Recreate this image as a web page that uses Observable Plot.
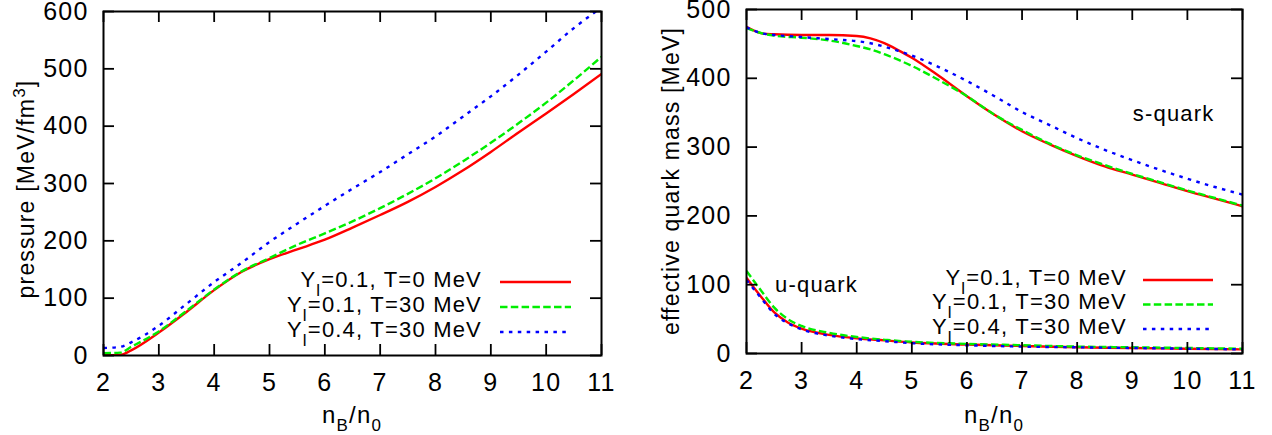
<!DOCTYPE html>
<html>
<head>
<meta charset="utf-8">
<script src="https://cdn.jsdelivr.net/npm/d3@7"></script>
<script src="https://cdn.jsdelivr.net/npm/@observablehq/plot@0.6"></script>
<style>
  body { margin: 0; background: #fff; }
  #charts { display: flex; width: 1272px; height: 435px; }
  #charts svg text { font-family: 'Liberation Sans', Arial, Helvetica, sans-serif; }
</style>
</head>
<body>
<div id="charts"></div>
<script>
// ---- pressure vs baryon density ----
const nPressure = [2, 2.3, 2.5, 3, 3.5, 4, 4.5, 5, 5.5, 6, 6.5, 7, 7.5, 8, 8.5, 9, 9.5, 10, 10.5, 11];
const pressureY01T0  = [0.5, 1, 9, 40, 76, 114, 146, 168, 185, 202, 223, 245, 268, 294, 323, 355, 389, 422, 456, 491];
const pressureY01T30 = [4, 5, 15, 42, 78, 115, 147, 170, 193, 213, 234, 257, 282, 309, 339, 371, 405, 441, 480, 521];
const pressureY04T30 = [13, 15, 23, 52, 90, 128, 162, 198, 230, 261, 291, 320, 351, 382, 417, 452, 490, 530, 571, 607];

// ---- effective quark masses ----
const nStrange = [2, 2.3, 2.5, 3, 3.5, 4, 4.25, 4.5, 4.75, 5, 5.5, 6, 6.5, 7, 7.5, 8, 8.5, 9, 9.5, 10, 10.5, 11];
const sMassY01T0  = [475, 465, 464, 463, 463, 461.5, 458, 451, 441, 430, 403, 374, 347, 323, 304, 287, 272, 260, 248, 236, 225, 214];
const sMassY01T30 = [473, 465, 462, 459, 455, 447, 442, 435, 427, 418, 397, 374, 347, 325, 305, 288, 274, 261, 249, 237, 226, 215];
const sMassY04T30 = [474, 465, 463, 460, 457, 454, 451, 446, 440, 433, 416, 396, 374, 351, 332, 313, 296, 281, 267, 254, 242, 231];

const nUp = [2, 2.25, 2.5, 2.75, 3, 3.5, 4, 4.5, 5, 6, 7, 8, 9, 10, 11];
const uMassY01T0  = [110, 84, 60, 45, 36, 27, 22, 19, 16, 13, 11, 9, 8, 7, 6];
const uMassY01T30 = [120, 93, 67, 50, 40, 30, 24, 20, 17, 14, 12, 10, 9, 8, 7];
const uMassY04T30 = [107, 82, 58, 44, 35, 26, 21, 18, 15, 12, 10, 9, 8, 7, 6];

// ---- axes and legend text ----
const xTicks = [2, 3, 4, 5, 6, 7, 8, 9, 10, 11];
const pressureTicks = [0, 100, 200, 300, 400, 500, 600];
const massTicks = [0, 100, 200, 300, 400, 500];
const legendYl = ["0.1", "0.1", "0.4"];
const legendT = ["0", "30", "30"];
const quarkLabels = ["s-quark", "u-quark"];

const styles = [
  { stroke: "#ff0000", dash: null },
  { stroke: "#00ee00", dash: "7.5,3.3" },
  { stroke: "#0000ff", dash: "3.5,5.4" }
];

const W = 636, H = 435, TICK = 11;
const FONT = "'Liberation Sans', Arial, Helvetica, sans-serif";
const FS = 22;       // labels and legend
const TICK_FS = 25;  // tick numbers

function table(xs, ys) { return xs.map((x, i) => ({ x, y: ys[i] })); }

function curves(xs, ysList) {
  return ysList.map((ys, k) => Plot.line(table(xs, ys), {
    x: "x", y: "y",
    stroke: styles[k].stroke,
    strokeWidth: 2.4,
    strokeDasharray: styles[k].dash,
    strokeLinecap: "butt",
    curve: "monotone-x",
    clip: true
  }));
}

function panel({ margins, yDomain, yTicks, marks }) {
  const [mt, mr, mb, ml] = margins;
  const fw = W - ml - mr, fh = H - mt - mb;
  return Plot.plot({
    width: W, height: H,
    marginTop: mt, marginRight: mr, marginBottom: mb, marginLeft: ml,
    style: { fontFamily: FONT, fontSize: FS + "px", letterSpacing: "1.2px", background: "white", color: "black", overflow: "visible" },
    x: { domain: [2, 11], axis: null },
    y: { domain: yDomain, axis: null },
    marks: [
      ...marks,
      // inward ticks on all four sides
      Plot.ruleX(xTicks, { x: d => d, insetTop: fh - TICK, strokeWidth: 1.8 }),
      Plot.ruleX(xTicks, { x: d => d, insetBottom: fh - TICK, strokeWidth: 1.8 }),
      Plot.ruleY(yTicks, { y: d => d, insetRight: fw - TICK, strokeWidth: 1.8 }),
      Plot.ruleY(yTicks, { y: d => d, insetLeft: fw - TICK, strokeWidth: 1.8 }),
      // tick numbers
      Plot.text(xTicks, { x: d => d, frameAnchor: "bottom", dy: 27, text: d => String(d), fontSize: TICK_FS, lineAnchor: "middle", fill: "black" }),
      Plot.text(yTicks, { y: d => d, frameAnchor: "left", dx: -15, text: d => String(d), fontSize: TICK_FS, textAnchor: "end", lineAnchor: "middle", fill: "black" }),
      Plot.frame({ stroke: "black", strokeWidth: 2 })
    ]
  });
}

function addXLabel(svg, cx) {
  const t = d3.select(svg).append("text")
    .attr("x", cx).attr("y", 423).attr("text-anchor", "middle")
    .attr("font-size", 24).attr("fill", "black");
  t.append("tspan").text("n");
  t.append("tspan").attr("font-size", 17).attr("dy", 8).text("B");
  t.append("tspan").attr("dy", -8).text("/n");
  t.append("tspan").attr("font-size", 17).attr("dy", 8).text("0");
}

function addLegend(svg, rows, textRight, lineX1, lineX2) {
  const g = d3.select(svg).append("g").attr("font-size", FS).attr("fill", "black");
  rows.forEach((y, k) => {
    const t = g.append("text").attr("x", textRight).attr("y", y + 4.5).attr("text-anchor", "end");
    t.append("tspan").text("Y");
    t.append("tspan").attr("font-size", 17).attr("dy", 9).text("l");
    t.append("tspan").attr("dy", -9).text(`=${legendYl[k]}, T=${legendT[k]} MeV`);
    g.append("line")
      .attr("x1", lineX1).attr("x2", lineX2).attr("y1", y).attr("y2", y)
      .attr("stroke", styles[k].stroke).attr("stroke-width", 2.6)
      .attr("stroke-dasharray", styles[k].dash);
  });
}

const root = document.getElementById("charts");

// left: pressure
const left = panel({
  margins: [11, 35, 80, 103],
  yDomain: [0, 600],
  yTicks: pressureTicks,
  marks: curves(nPressure, [pressureY01T0, pressureY01T30, pressureY04T30])
});
{
  const yl = d3.select(left).append("text")
    .attr("transform", "translate(34,189) rotate(-90)")
    .attr("text-anchor", "middle").attr("font-size", 23).attr("fill", "black");
  yl.append("tspan").text("pressure [MeV/fm");
  yl.append("tspan").attr("font-size", 17).attr("dy", -9).text("3");
  yl.append("tspan").attr("dy", 9).text("]");
  addXLabel(left, 352);
  addLegend(left, [282, 307, 332], 482, 500, 571);
}
root.appendChild(left);

// right: effective quark masses
const right = panel({
  margins: [9, 30, 82, 110],
  yDomain: [0, 500],
  yTicks: massTicks,
  marks: [
    ...curves(nStrange, [sMassY01T0, sMassY01T30, sMassY04T30]),
    ...curves(nUp, [uMassY01T0, uMassY01T30, uMassY04T30]),
    Plot.text([{ x: 9.75, y: 348, t: quarkLabels[0] }, { x: 3.27, y: 99, t: quarkLabels[1] }],
      { x: "x", y: "y", text: "t", fontSize: FS, fill: "black", textAnchor: "middle", lineAnchor: "middle" })
  ]
});
{
  d3.select(right).append("text")
    .attr("transform", "translate(43,181) rotate(-90)")
    .attr("text-anchor", "middle").attr("font-size", 23).attr("fill", "black")
    .text("effective quark mass [MeV]");
  addXLabel(right, 358);
  addLegend(right, [280, 304.5, 329], 491, 507, 577);
}
root.appendChild(right);
</script>
</body>
</html>
